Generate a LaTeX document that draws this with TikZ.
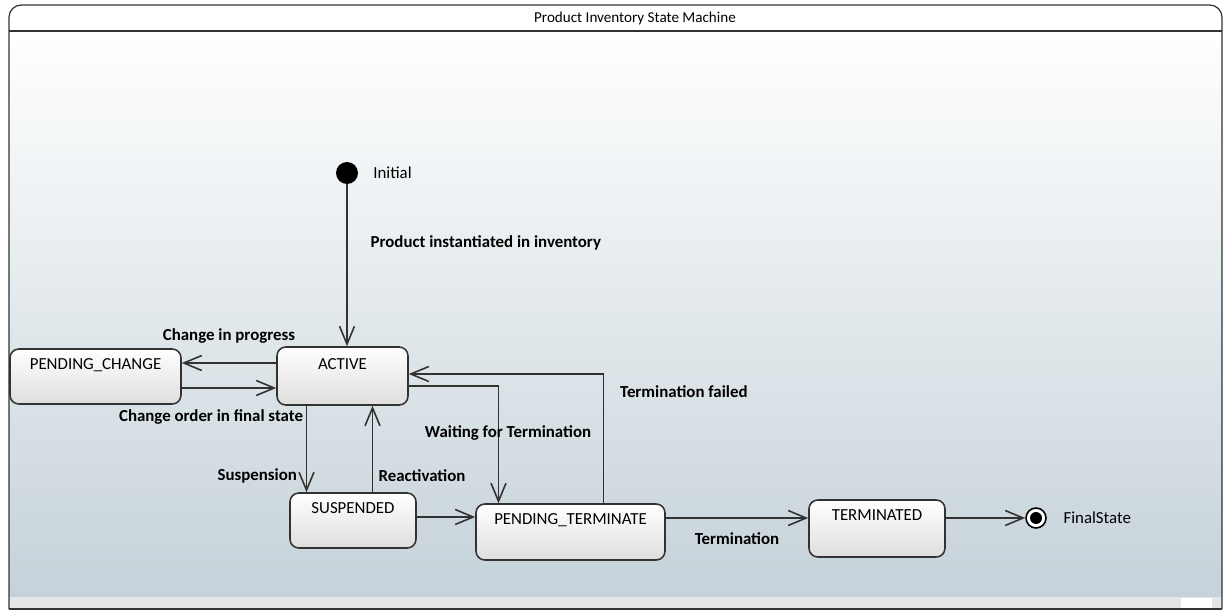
\documentclass[tikz,border=0pt]{standalone}
\usepackage{fontspec}
\setmainfont{Carlito}
\usetikzlibrary{arrows.meta,calc}

\definecolor{rahmen}{RGB}{50,50,50}
\definecolor{bg_unten}{RGB}{197,210,217}
\definecolor{leiste}{RGB}{230,230,230}

\begin{document}
\begin{tikzpicture}[
      x=0.02cm, y=-0.02cm,
      every node/.style={
        font=\fontsize{9.6}{11}\selectfont
      },
      zustand/.style={
        draw=rahmen,
        line width=0.9pt,
        rounded corners=5pt,
        top color=white,
        bottom color=black!13,
        inner sep=0pt
      },
      uebergang/.style={
        draw=rahmen,
        line width=0.9pt,
        -{Straight Barb[length=0.36cm,width=0.3cm,line width=0.9pt]}
      },
      etikett/.style={
        font=\fontsize{9.6}{11}\selectfont\bfseries,
        inner sep=1pt
      }
    ]

      \useasboundingbox (0,0) rectangle (1223,611);

      % Hintergrund
      \shade [top color=white, bottom color=bg_unten] (9,31) rectangle (1222,597);
      \fill [leiste] (9,597) rectangle (1222,609);
      \fill [white] (1181,598) rectangle (1212,609);
      \draw [rahmen, line width=0.7pt, rounded corners=7pt] (9,609) -- (9,5) -- (1222,5) -- (1222,609);
      \draw [rahmen, line width=0.7pt] (9,609) -- (1222,609);
      \draw [rahmen, line width=0.6pt] (9,31) -- (1222,31);
      \node (titel) at (635,18) [font=\fontsize{8.6}{10}\selectfont] {Product Inventory State Machine};

      % Pseudozustaende
      \node (init) at (347,173) [circle, fill=black, minimum size=0.44cm, inner sep=0pt,
        label={[label distance=5pt]right:Initial}] {};
      \node (final) at (1036,518) [circle, draw=black, line width=0.9pt, fill=white,
        minimum size=0.4cm, inner sep=0pt,
        path picture={\fill [black] (path picture bounding box.center) circle (0.12cm);},
        label={[label distance=6pt]right:FinalState}] {};

      % Zustaende
      \node (active) at (342.5,376) [zustand, minimum width=2.62cm, minimum height=1.16cm,
        label={[anchor=base,yshift=-13pt]north:ACTIVE}] {};
      \node (pchange) at (95.5,376.5) [zustand, minimum width=3.42cm, minimum height=1.10cm,
        label={[anchor=base,yshift=-12pt]north:PENDING\_CHANGE}] {};
      \node (susp) at (353,520.5) [zustand, minimum width=2.52cm, minimum height=1.10cm,
        label={[anchor=base,yshift=-12pt]north:SUSPENDED}] {};
      \node (pterm) at (570.5,532) [zustand, minimum width=3.78cm, minimum height=1.12cm,
        label={[anchor=base,yshift=-12pt]north:PENDING\_TERMINATE}] {};
      \node (term) at (877,528.5) [zustand, minimum width=2.72cm, minimum height=1.14cm,
        label={[anchor=base,yshift=-12pt]north:TERMINATED}] {};

      % Uebergaenge
      \draw [uebergang] (init) -- (init |- active.north)
        node [etikett, pos=0.36, anchor=west, xshift=12pt] {Product instantiated in inventory};

      \draw [uebergang] ($(active.west)+(0,-13)$) coordinate (a1) -- (a1 -| pchange.east)
        node [etikett, midway, above=10pt] {Change in progress};
      \path ($(active.west)+(0,12)$) coordinate (a2);
      \draw [uebergang] (a2 -| pchange.east) -- (a2)
        node [etikett, pos=0.31, below=11pt] {Change order in final state};

      \draw [uebergang] ($(active.south)+(-36,0)$) coordinate (a3) -- (a3 |- susp.north)
        node [etikett, pos=0.81, left=4pt] {Suspension};
      \path ($(active.south)+(30,0)$) coordinate (a4);
      \draw [uebergang] (a4 |- susp.north) -- (a4)
        node [etikett, pos=0.19, right=2pt] {Reactivation};

      \draw [uebergang] ($(active.east)+(0,10)$) -| ($(pterm.north)+(-72,0)$)
        node [etikett, pos=0.7, xshift=5.4pt] {Waiting for Termination};
      \draw [uebergang] ($(pterm.north)+(33,0)$) |- ($(active.east)+(0,-2)$)
        node [etikett, pos=0.43, anchor=west, xshift=8pt] {Termination failed};

      \draw [uebergang] ($(susp.east)+(0,-3.5)$) coordinate (s1) -- (s1 -| pterm.west);
      \draw [uebergang] ($(pterm.east)+(0,-14)$) coordinate (p1) -- (p1 -| term.west)
        node [etikett, midway, below=7pt] {Termination};
      \draw [uebergang] ($(term.east)+(0,-10.5)$) -- (final.west);
    \end{tikzpicture}
\end{document}
